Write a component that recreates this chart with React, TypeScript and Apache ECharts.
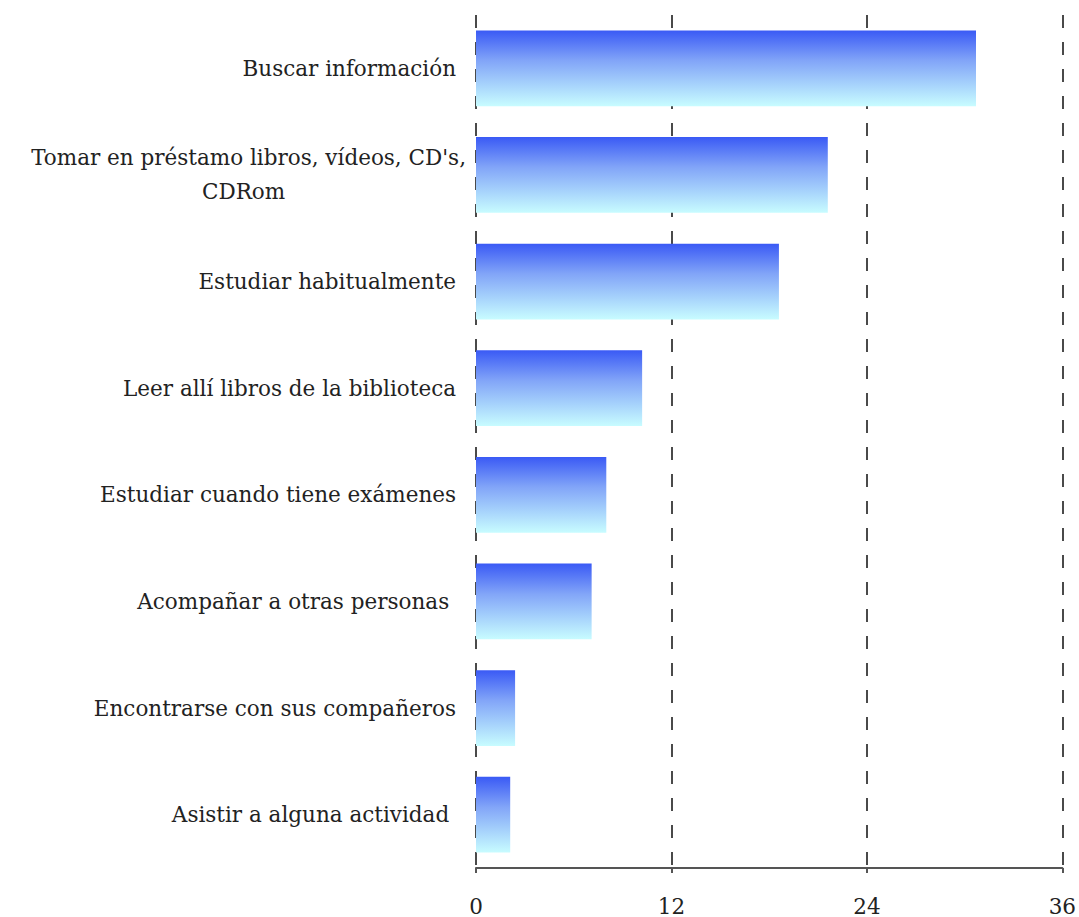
import React, { useEffect, useRef } from "react";
import * as echarts from "echarts";

const categories = [
  "Buscar información",
  "Tomar en préstamo libros, vídeos, CD's,\nCDRom",
  "Estudiar habitualmente",
  "Leer allí libros de la biblioteca",
  "Estudiar cuando tiene exámenes",
  "Acompañar a otras personas ",
  "Encontrarse con sus compañeros",
  "Asistir a alguna actividad ",
];
const values = [30.7, 21.6, 18.6, 10.2, 8.0, 7.1, 2.4, 2.1];
const xTicks = [0, 12, 24, 36];

export default function App() {
  const ref = useRef<HTMLDivElement>(null);
  useEffect(() => {
    if (!ref.current) return;
    const chart = echarts.init(ref.current, null, { renderer: "svg" });
    const font = "'DejaVu Serif', 'Liberation Serif', serif";
    const fs = 21.5;
    chart.setOption({
      animation: false,
      backgroundColor: "#ffffff",
      grid: { left: 476, right: 15, top: 15, bottom: 48, containLabel: false },
      xAxis: {
        type: "value",
        min: xTicks[0],
        max: xTicks[xTicks.length - 1],
        interval: 12,
        axisLine: { show: true, lineStyle: { color: "#555", width: 2 } },
        axisTick: { show: true, length: 5, lineStyle: { color: "#555", width: 2 } },
        axisLabel: { color: "#222", fontFamily: font, fontSize: fs, margin: 27 },
        splitLine: {
          show: true,
          lineStyle: { color: "#4a4a4a", width: 2, type: [13, 14] },
        },
      },
      yAxis: {
        type: "category",
        inverse: true,
        data: categories,
        axisLine: { show: false },
        axisTick: { show: false },
        axisLabel: {
          margin: 20,
          color: "#222",
          fontFamily: font,
          fontSize: fs,
          lineHeight: 34,
          formatter: (v: string) => {
            const lines = v.split("\n");
            if (lines.length === 1) return v;
            return lines.map((l, i) => (i === 0 ? `{a|${l}}` : `{c|${l}}`)).join("\n");
          },
          rich: {
            a: { fontFamily: font, fontSize: fs, color: "#222", lineHeight: 34, padding: [0, -10, 0, 0] },
            c: { fontFamily: font, fontSize: fs, color: "#222", lineHeight: 34, align: "center" },
          },
        },
      },
      series: [
        {
          type: "bar",
          data: values,
          barCategoryGap: "29%",
          itemStyle: {
            color: new echarts.graphic.LinearGradient(0, 0, 0, 1, [
              { offset: 0, color: "#3a5af5" },
              { offset: 0.4, color: "#82a5f8" },
              { offset: 1, color: "#c8fcff" },
            ]),
          },
        },
      ],
    });
    return () => chart.dispose();
  }, []);
  return (
    <div
      ref={ref}
      style={{ position: "fixed", left: 0, top: 0, width: 1079, height: 917 }}
    />
  );
}
